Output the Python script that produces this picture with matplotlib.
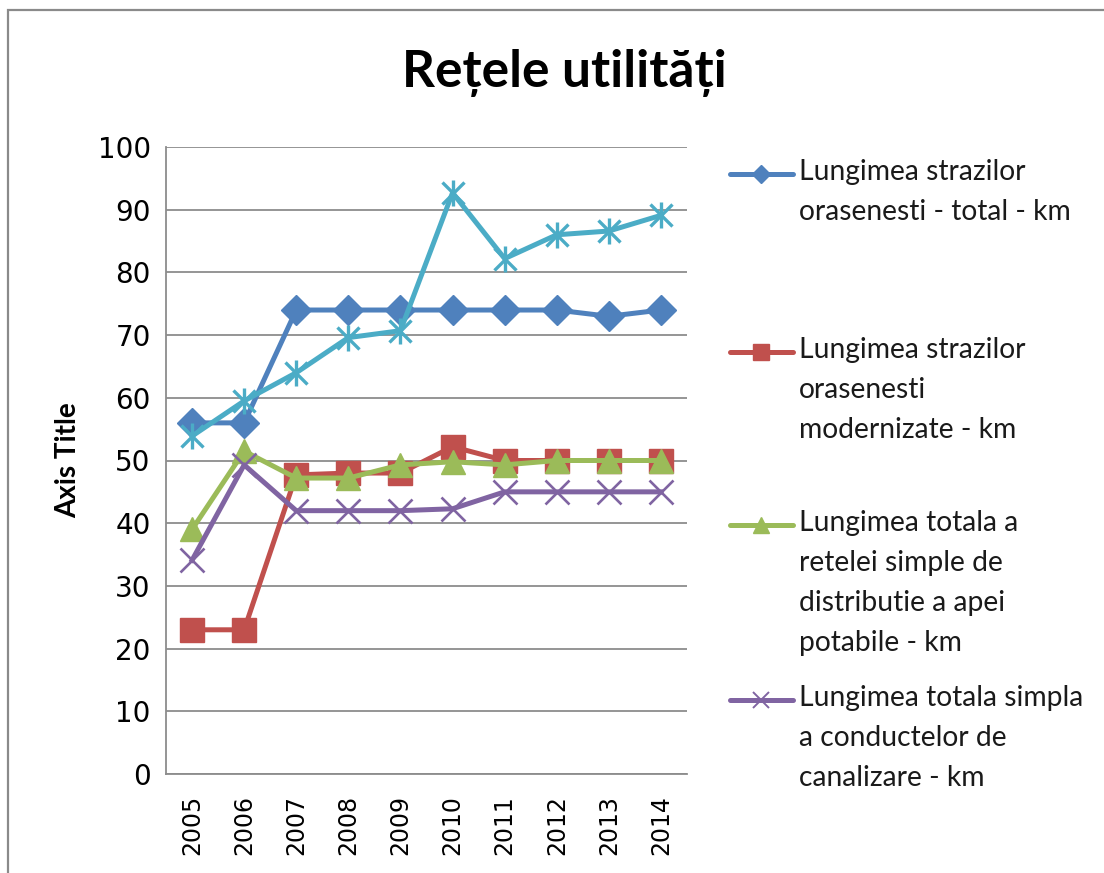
"""Retele utilitati line chart (Excel style)."""

import matplotlib

matplotlib.use("Agg")

import matplotlib.pyplot as plt
from matplotlib.lines import Line2D
from matplotlib.patches import Rectangle

years = ["2005", "2006", "2007", "2008", "2009", "2010", "2011", "2012", "2013", "2014"]

strazi_total = [56, 56, 74, 74, 74, 74, 74, 74, 73, 74]
strazi_modernizate = [23, 23, 47.7, 48, 48, 52.2, 50, 50, 50, 50]
retea_apa = [39, 51.5, 47.2, 47.2, 49.3, 49.8, 49.3, 50, 50, 50]
canalizare = [34.1, 49.3, 42, 42, 42, 42.3, 45, 45, 45, 45]
serie_5 = [53.9, 59.5, 64, 69.6, 70.7, 92.7, 82.2, 86, 86.6, 89.1]

labels = [
    "Lungimea strazilor\norasenesti - total - km",
    "Lungimea strazilor\norasenesti\nmodernizate - km",
    "Lungimea totala a\nretelei simple de\ndistributie a apei\npotabile - km",
    "Lungimea totala simpla\na conductelor de\ncanalizare - km",
]

BLUE = "#4F81BD"
RED = "#C0504D"
GREEN = "#9BBB59"
PURPLE = "#8064A2"
CYAN = "#4BACC6"
GRID = "#8C8C8C"

W, H = 1104, 873
fig = plt.figure(figsize=(W / 100, H / 100), dpi=100)
fig.patch.set_facecolor("white")

# chart border (cut off at right/bottom like the screenshot)
fig.patches.append(Rectangle((8 / W, -0.05), 1.2, 1 - 10 / H + 0.05,
                             transform=fig.transFigure, fill=False,
                             edgecolor="#8A8A8A", linewidth=1.6))

ax = fig.add_axes([166 / W, 1 - 774 / H, 521 / W, 627 / H])
x = list(range(len(years)))
lw = 3.6

ax.plot(x, strazi_total, color=BLUE, lw=lw, marker="D", ms=15, mec=BLUE)
ax.plot(x, strazi_modernizate, color=RED, lw=lw, marker="s", ms=17, mec=RED)
ax.plot(x, retea_apa, color=GREEN, lw=lw, marker="^", ms=17, mec=GREEN)
ax.plot(x, canalizare, color=PURPLE, lw=lw, marker="x", ms=17, mew=1.9, mec=PURPLE)
ax.plot(x, serie_5, color=CYAN, lw=lw, marker="x", ms=16, mew=2.4, mec=CYAN)
ax.plot(x, serie_5, color=CYAN, lw=0, marker="|", ms=19, mew=2.4, mec=CYAN)

ax.set_xlim(-0.5, len(years) - 0.5)
ax.set_ylim(0, 100)
ax.set_yticks(range(0, 101, 10))
ax.set_xticks(x)
ax.set_xticklabels(years, rotation=90)
ax.tick_params(axis="y", length=0, labelsize=20, pad=11)
ax.tick_params(axis="x", length=0, labelsize=17, pad=15)
ax.grid(axis="y", color=GRID, linewidth=1.3)
ax.set_axisbelow(True)
for side in ("top", "right"):
    ax.spines[side].set_visible(False)
for side in ("left", "bottom"):
    ax.spines[side].set_color(GRID)
    ax.spines[side].set_linewidth(1.3)

ax.set_ylabel("Axis Title", fontsize=20, fontweight="bold", family="Lato", labelpad=12)

fig.text(564 / W, 1 - 73 / H, "Rețele utilități", ha="center", va="center",
         fontsize=37, fontweight="bold", family="Lato")

# legend drawn by hand: Excel spreads the entries over equal slots
handles = [
    (BLUE, "D", 9, 1),
    (RED, "s", 12, 1),
    (GREEN, "^", 12, 1),
    (PURPLE, "x", 12, 1.4),
]
slot_y = [174, 352, 525, 700]
for (color, mk, ms, mew), label, yy in zip(handles, labels, slot_y):
    yf = 1 - yy / H
    fig.add_artist(Line2D([730 / W, 793 / W], [yf, yf], transform=fig.transFigure,
                          color=color, lw=lw, solid_capstyle="round"))
    fig.add_artist(Line2D([761 / W], [yf], transform=fig.transFigure, color=color,
                          marker=mk, ms=ms, mew=mew, mec=color, lw=0))
    fig.text(799 / W, 1 - (yy - 15) / H, label, ha="left", va="top", fontsize=20.3,
             family="Lato", linespacing=1.66, color="#1a1a1a")

fig.savefig("out.png", dpi=100)
